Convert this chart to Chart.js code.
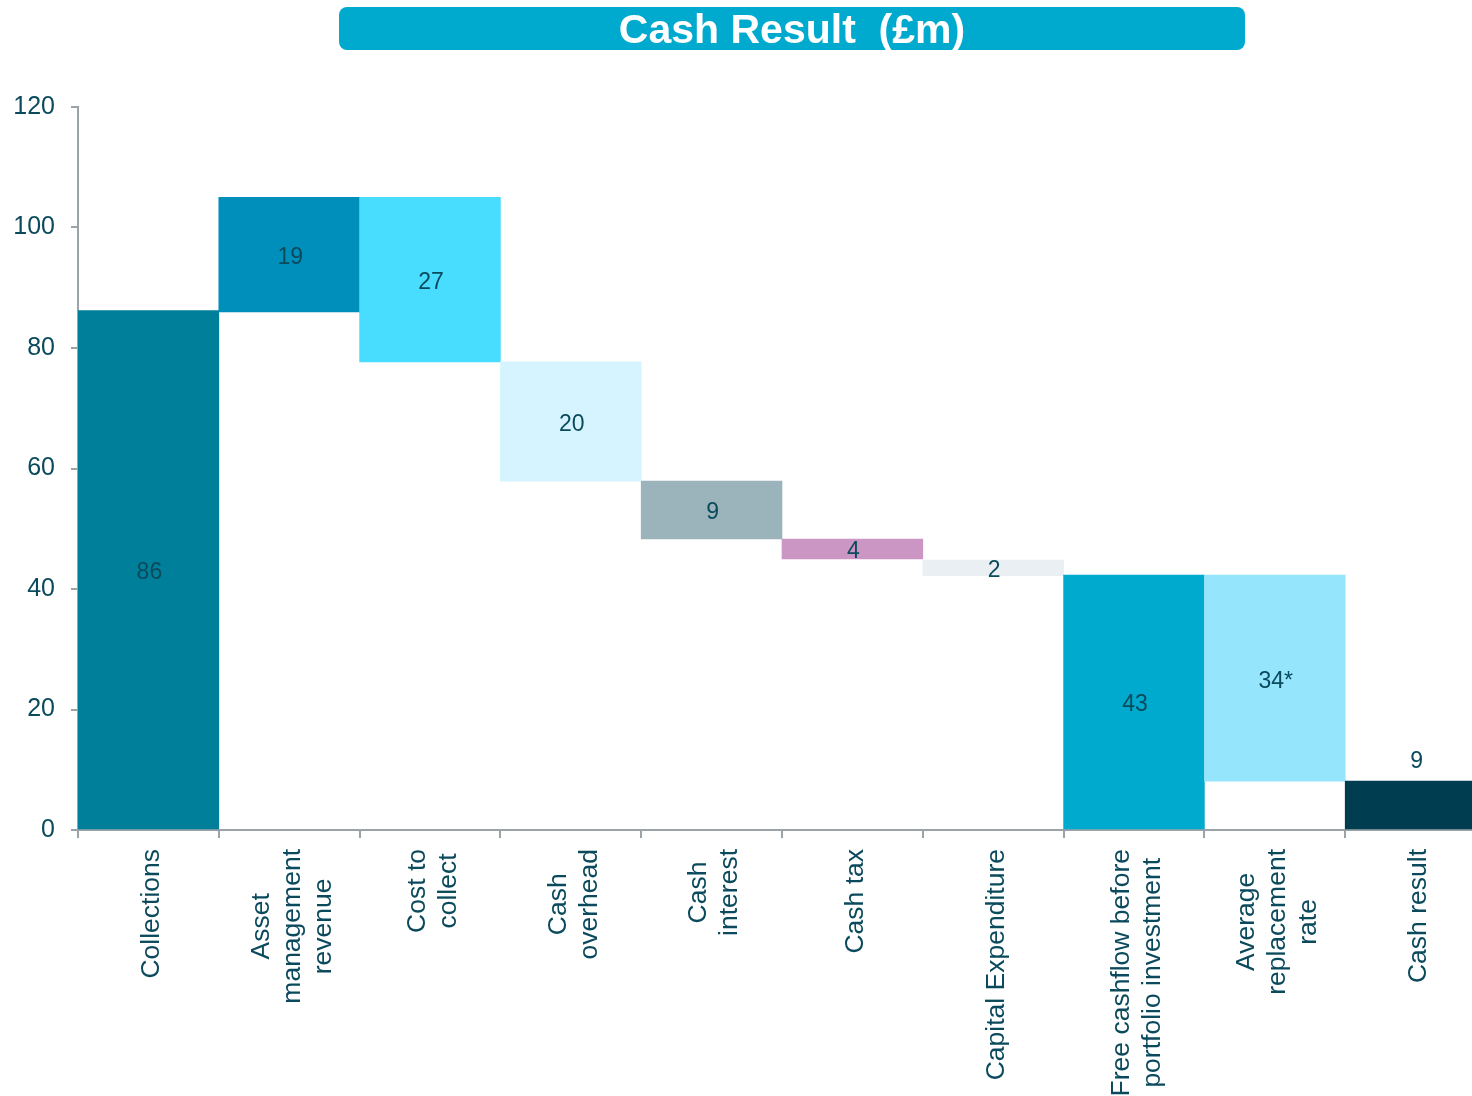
<!DOCTYPE html>
<html>
<head>
<meta charset="utf-8">
<script src="https://cdn.jsdelivr.net/npm/chart.js@4"></script>
<style>
  html, body { margin: 0; padding: 0; background: #fff; overflow: hidden; }
  #wrap { width: 1486px; height: 1096px; position: relative; }
</style>
</head>
<body>
<div id="wrap"><canvas id="cashChart"></canvas></div>
<script>
// data (£m)
const categories = [
    ["Collections"],
    ["Asset", "management", "revenue"],
    ["Cost to", "collect"],
    ["Cash", "overhead"],
    ["Cash", "interest"],
    ["Cash tax"],
    ["Capital Expenditure"],
    ["Free cashflow before", "portfolio investment"],
    ["Average", "replacement", "rate"],
    ["Cash result"],
];
const barLow  = [0,  86,  77.7, 57.9, 48.3, 45.0, 42.2, 0,    8.1,  0];
const barHigh = [86.2, 105, 105,  77.7, 57.9, 48.3, 44.8, 42.3, 42.3, 8.1];
const valueLabels = ["86", "19", "27", "20", "9", "4", "2", "43", "34*", "9"];
const yTicks = [0, 20, 40, 60, 80, 100, 120];

const barColors = ["#007f9a", "#008fbb", "#48dcff", "#d6f4ff", "#9bb3ba",
                   "#cc96c4", "#e9eff2", "#00aacf", "#95e6fc", "#003d50"];
const textColor = "#0b4a5c";
const axisColor = "#9aa3a8";
const fontFamily = '"Liberation Sans", Arial, sans-serif';

// title box drawn on the canvas
const titlePlugin = {
    id: "titleBox",
    afterDraw(chart) {
        const ctx = chart.ctx;
        ctx.save();
        ctx.fillStyle = "#00aacf";
        ctx.beginPath();
        ctx.roundRect(339, 7, 906, 43, 8);
        ctx.fill();
        ctx.fillStyle = "#ffffff";
        ctx.font = "bold 41px " + fontFamily;
        ctx.textAlign = "center";
        ctx.textBaseline = "middle";
        ctx.fillText("Cash Result  (\u00a3m)", 792, 32);
        ctx.restore();
    },
};

// value labels on the bars (last one sits above its bar)
const valuePlugin = {
    id: "values",
    afterDatasetsDraw(chart) {
        const ctx = chart.ctx;
        const meta = chart.getDatasetMeta(0);
        ctx.save();
        ctx.font = "23px " + fontFamily;
        ctx.fillStyle = textColor;
        ctx.textAlign = "center";
        ctx.textBaseline = "middle";
        meta.data.forEach((bar, i) => {
            let y = (bar.y + bar.base) / 2 + 3;
            if (i === meta.data.length - 1) y = Math.min(bar.y, bar.base) - 20;
            ctx.fillText(valueLabels[i], bar.x + 1, y);
        });
        ctx.restore();
    },
};

// rotated category labels, lines centred on each other
const xLabelPlugin = {
    id: "xLabels",
    afterDraw(chart) {
        const ctx = chart.ctx;
        const xs = chart.scales.x;
        const lineH = 31;
        ctx.save();
        ctx.font = "26.5px " + fontFamily;
        ctx.fillStyle = textColor;
        ctx.textAlign = "center";
        ctx.textBaseline = "middle";
        categories.forEach((lines, i) => {
            const cx = xs.getPixelForValue(i) + 3;
            const widest = Math.max(...lines.map((l) => ctx.measureText(l).width));
            const cy = xs.top + 19 + widest / 2;
            lines.forEach((line, k) => {
                ctx.save();
                ctx.translate(cx + (k - (lines.length - 1) / 2) * lineH, cy);
                ctx.rotate(-Math.PI / 2);
                ctx.fillText(line, 0, 0);
                ctx.restore();
            });
        });
        ctx.restore();
    },
};

const ctx = document.getElementById("cashChart").getContext("2d");

new Chart(ctx, {
    type: "bar",
    data: {
        labels: categories.map((c) => c.join(" ")),
        datasets: [
            {
                data: barLow.map((lo, i) => [lo, barHigh[i]]),
                backgroundColor: barColors,
                borderWidth: 0,
                barPercentage: 1,
                categoryPercentage: 1,
            },
        ],
    },
    options: {
        responsive: true,
        maintainAspectRatio: false,
        animation: false,
        layout: { padding: { top: 107, left: 0, right: 0, bottom: 0 } },
        plugins: {
            legend: { display: false },
            tooltip: { enabled: false },
        },
        scales: {
            x: {
                grid: {
                    display: true,
                    drawOnChartArea: false,
                    drawTicks: true,
                    tickLength: 8,
                    color: axisColor,
                    lineWidth: 2,
                },
                border: { color: axisColor, width: 2 },
                ticks: { display: false },
                afterFit(scale) {
                    scale.height = 266;
                },
            },
            y: {
                min: 0,
                max: 120,
                afterBuildTicks(scale) {
                    scale.ticks = yTicks.map((v) => ({ value: v }));
                },
                grid: {
                    display: true,
                    drawOnChartArea: false,
                    drawTicks: true,
                    tickLength: 7,
                    color: axisColor,
                    lineWidth: 2,
                },
                border: { color: axisColor, width: 2 },
                ticks: {
                    padding: 16,
                    color: textColor,
                    font: { family: fontFamily, size: 25 },
                },
                afterFit(scale) {
                    scale.width = 78;
                },
            },
        },
    },
    plugins: [titlePlugin, valuePlugin, xLabelPlugin],
});
</script>
</body>
</html>
